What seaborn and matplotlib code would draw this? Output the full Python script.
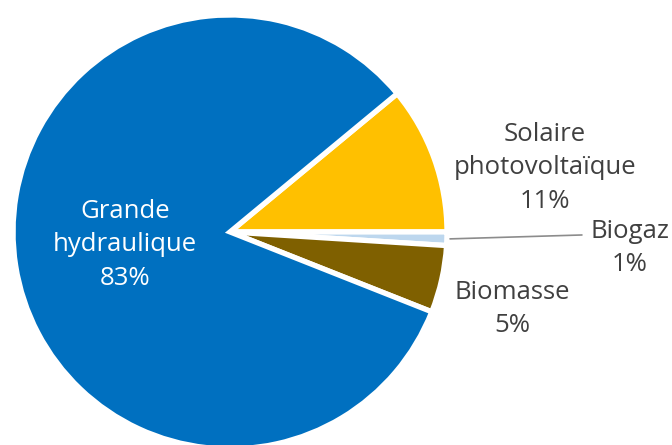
import matplotlib
matplotlib.use("Agg")
import matplotlib.pyplot as plt
import seaborn as sns

# data
labels = ["Solaire\nphotovoltaïque", "Biogaz", "Biomasse", "Grande\nhydraulique"]
shares = [11, 1, 5, 83]
colors = ["#ffc000", "#bdd7ee", "#7f6000", "#0070c0"]

sns.set_theme(style="white")
plt.rcParams['font.family'] = ['Open Sans', 'DejaVu Sans']

fig = plt.figure(figsize=(6.72, 4.45), dpi=100)
ax = fig.add_axes([0, 0, 1, 1])

wedges, _ = ax.pie(shares, colors=colors, startangle=39.6,
                   counterclock=False, radius=1.0,
                   wedgeprops=dict(edgecolor="white", linewidth=3.8))

txt = "#404040"
fs = 18.5
ls = 1.45
ax.text(-0.484, -0.060, f"{labels[3]}\n{shares[3]}%", color="white",
        fontsize=fs, ha="center", va="center", linespacing=ls)
ax.text(1.452, 0.295, f"{labels[0]}\n{shares[0]}%", color=txt,
        fontsize=fs, ha="center", va="center", linespacing=ls)
ax.text(1.843, -0.074, f"{labels[1]}\n{shares[1]}%", color=txt,
        fontsize=fs, ha="center", va="center", linespacing=ls)
ax.text(1.300, -0.355, f"{labels[2]}\n{shares[2]}%", color=txt,
        fontsize=fs, ha="center", va="center", linespacing=ls)
# leader line for the tiny slice
ax.plot([1.014, 1.622], [-0.032, -0.014], color="#8c8c8c", linewidth=1.2)

ax.set_xlim(-1.060, 2.037)
ax.set_ylim(-0.982, 1.069)
ax.set_aspect("equal")
ax.axis("off")

fig.savefig("out.png", dpi=100, facecolor="white")
